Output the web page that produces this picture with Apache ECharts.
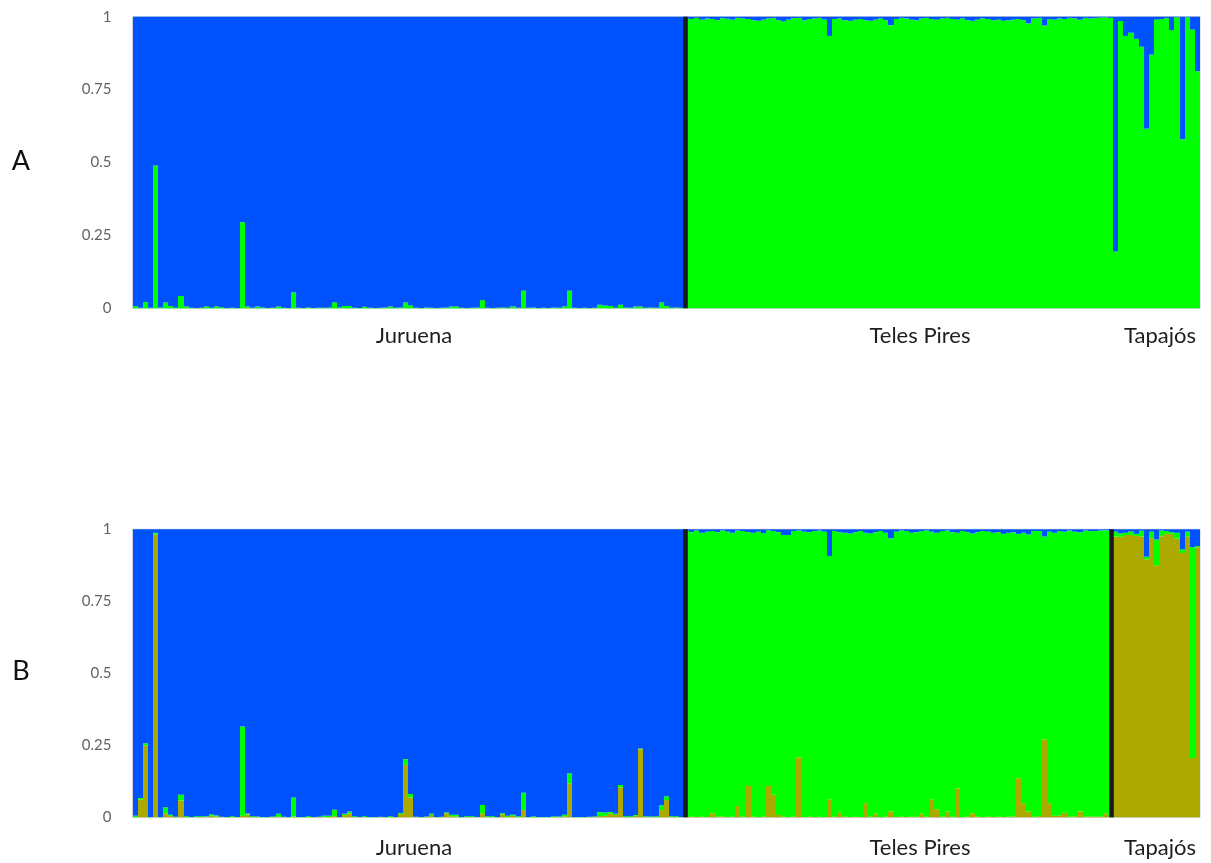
<!DOCTYPE html>
<html>
<head>
<meta charset="utf-8">
<script src="https://cdn.jsdelivr.net/npm/echarts@6/dist/echarts.min.js"></script>
<style>
  html, body { margin: 0; padding: 0; background: #ffffff; }
  #chart { width: 1211px; height: 863px; }
</style>
</head>
<body>
<div id="chart"></div>
<script>
// Populations in plotting order and the number of individuals in each
const populations = ['Juruena', 'Teles Pires', 'Tapajós'];
const popSizes = [108, 84, 17];

// Y tick values shared by both panels
const yTicks = [0, 0.25, 0.5, 0.75, 1];

// Panel A (K = 2): membership in the green cluster; blue is the remainder
const kTwoGreen = [
  // Juruena
  0.008,0.002,0.022,0.002,0.49,0.003,0.02,0.008,0.002,0.042,
  0.006,0.002,0.001,0.002,0.006,0.002,0.006,0.004,0.001,0.002,
  0.001,0.295,0.006,0.002,0.006,0.003,0.001,0.002,0.006,0.002,
  0.001,0.054,0.002,0.001,0.003,0.001,0.002,0.002,0.003,0.02,
  0.003,0.008,0.008,0.002,0.001,0.005,0.002,0.001,0.002,0.003,
  0.006,0.002,0.003,0.02,0.01,0.002,0.001,0.003,0.002,0.001,
  0.002,0.003,0.006,0.006,0.002,0.001,0.002,0.003,0.028,0.002,
  0.001,0.002,0.003,0.002,0.006,0.002,0.06,0.002,0.003,0.001,
  0.002,0.001,0.003,0.002,0.006,0.06,0.002,0.001,0.002,0.001,
  0.002,0.012,0.01,0.008,0.002,0.012,0.003,0.002,0.006,0.006,
  0.002,0.003,0.002,0.02,0.008,0.002,0.003,0.002,
  // Teles Pires
  0.994,0.992,0.996,0.99,0.994,0.992,0.988,0.995,0.993,0.99,0.996,0.994,
  0.992,0.988,0.986,0.99,0.994,0.996,0.988,0.984,0.99,0.995,0.996,0.988,
  0.992,0.994,0.996,0.99,0.934,0.992,0.994,0.988,0.986,0.99,0.992,0.988,
  0.986,0.99,0.994,0.988,0.971,0.992,0.996,0.994,0.99,0.988,0.994,0.996,
  0.992,0.99,0.994,0.996,0.992,0.99,0.994,0.988,0.986,0.99,0.994,0.992,
  0.988,0.99,0.986,0.988,0.99,0.992,0.988,0.977,0.994,0.996,0.97,0.992,
  0.99,0.994,0.992,0.996,0.994,0.99,0.996,0.994,0.996,0.997,0.998,0.996,
  // Tapajós
  0.195,0.985,0.934,0.945,0.924,0.897,0.616,0.87,0.99,0.992,0.995,0.954,
  0.998,0.58,0.998,0.956,0.813
];

// Panel B (K = 3): olive and green memberships; blue is the remainder
const kThreeOlive = [
  // Juruena
  0,0.062,0.249,0,0.982,0,0.014,0.005,0.001,0.058,
  0.001,0,0.001,0.001,0.002,0.005,0.003,0.001,0,0.001,
  0,0.005,0.009,0.001,0.001,0,0,0.001,0.002,0.001,
  0,0.003,0,0,0.001,0,0.001,0.001,0.001,0.004,
  0,0.008,0.014,0.001,0,0.001,0,0,0.001,0,
  0.001,0,0.012,0.182,0.069,0.001,0,0.001,0.008,0,
  0.001,0.014,0.003,0.003,0,0.001,0.001,0,0.014,0.001,
  0.001,0,0.01,0.001,0.005,0.001,0.025,0,0.001,0,
  0,0,0.001,0.001,0.003,0.118,0,0,0,0.001,
  0.001,0.004,0.005,0.012,0.008,0.104,0.001,0.001,0.005,0.236,
  0.001,0.001,0.001,0.025,0.06,0.001,0.001,0,
  // Teles Pires
  0.001,0.003,0.001,0.002,0.001,0.014,0.002,0.003,0.001,0.002,0.039,0.002,
  0.109,0.002,0.001,0.002,0.109,0.078,0.008,0.002,0.001,0.002,0.208,0.001,
  0.002,0.001,0.002,0.001,0.062,0.002,0.016,0.002,0.001,0.002,0.001,0.049,
  0.002,0.012,0.001,0.002,0.02,0.001,0.003,0.001,0.002,0.002,0.012,0.002,
  0.062,0.028,0.002,0.02,0.002,0.1,0.001,0.002,0.014,0.002,0.001,0.002,
  0.001,0.002,0.001,0.002,0.003,0.135,0.049,0.02,0.002,0.004,0.27,0.049,
  0.005,0.005,0.016,0.002,0.003,0.02,0.002,0.003,0.002,0.003,0.014,0.003,
  // Tapajós
  0.975,0.974,0.98,0.98,0.977,0.975,0.896,0.969,0.875,0.976,0.984,0.984,
  0.968,0.918,0.974,0.206,0.938
];

const kThreeGreen = [
  // Juruena
  0.005,0.005,0.008,0.001,0.006,0.001,0.021,0.004,0.001,0.02,
  0.003,0.001,0.003,0.003,0.002,0.006,0.003,0.001,0.001,0.003,
  0.001,0.31,0.004,0.003,0.002,0.001,0.001,0.002,0.01,0.001,
  0.001,0.066,0.001,0.001,0.003,0.001,0.001,0.004,0.004,0.022,
  0.001,0.004,0.006,0.003,0.001,0.003,0.001,0.001,0.001,0.001,
  0.003,0.001,0.003,0.02,0.012,0.001,0.001,0.002,0.004,0.001,
  0.001,0.003,0.006,0.006,0.001,0.003,0.003,0.001,0.029,0.003,
  0.003,0.001,0.004,0.004,0.004,0.003,0.06,0.001,0.003,0.001,
  0.001,0.001,0.003,0.002,0.006,0.035,0.001,0.001,0.001,0.001,
  0.002,0.014,0.012,0.006,0.004,0.008,0.003,0.003,0.003,0.003,
  0.003,0.002,0.003,0.017,0.012,0.003,0.003,0.001,
  // Teles Pires
  0.994,0.987,0.995,0.986,0.991,0.98,0.988,0.993,0.991,0.986,0.957,0.992,
  0.881,0.986,0.991,0.984,0.887,0.916,0.982,0.978,0.979,0.992,0.788,0.991,
  0.988,0.993,0.994,0.991,0.845,0.992,0.974,0.986,0.985,0.988,0.993,0.939,
  0.984,0.978,0.993,0.986,0.949,0.991,0.993,0.993,0.986,0.988,0.982,0.994,
  0.93,0.96,0.992,0.976,0.988,0.888,0.993,0.988,0.972,0.988,0.993,0.99,
  0.987,0.988,0.983,0.986,0.987,0.849,0.939,0.962,0.992,0.99,0.705,0.943,
  0.983,0.989,0.976,0.994,0.989,0.97,0.994,0.991,0.992,0.993,0.983,0.993,
  // Tapajós
  0.017,0.012,0.008,0.012,0.007,0.02,0.009,0.023,0.09,0.02,0.01,0.006,
  0.02,0.012,0.018,0.732,0.004
];

// Population boundaries marked with a black divider in each panel
const kTwoDividers = ['Juruena'];
const kThreeDividers = ['Juruena', 'Teles Pires'];

const COLORS = { blue: '#0052ff', green: '#00ff00', olive: '#aca900', divider: '#1a1a1a' };
const FONT = 'Lato, "Open Sans", sans-serif';

const nInd = popSizes.reduce((a, b) => a + b, 0);
const individuals = Array.from({ length: nInd }, (_, i) => String(i + 1));

// Cumulative end position of a population along the individual axis
function popEnd(name) {
  const idx = populations.indexOf(name);
  let s = 0;
  for (let i = 0; i <= idx; i++) s += popSizes[i];
  return s;
}

// Small nudge of each divider stroke relative to the population boundary (in bar widths)
const dividerNudge = { 'Juruena': 0.15, 'Teles Pires': -0.45 };

// Rows of [individual, q1, q2, ...] in bottom-to-top stacking order; blue fills the rest up to 1
const kTwoRows = kTwoGreen.map((g, i) => [i, g, Math.max(0, 1 - g)]);
const kThreeRows = kThreeOlive.map((o, i) => [i, o, kThreeGreen[i], Math.max(0, 1 - o - kThreeGreen[i])]);

const grids = [
  { left: 132.5, top: 16.7, width: 1067.5, height: 291.6 },
  { left: 132.5, top: 529.3, width: 1067.5, height: 288 }
];

function catAxis(gridIndex) {
  return {
    type: 'category', gridIndex, data: individuals, boundaryGap: true,
    axisLine: { show: false }, axisTick: { show: false }, axisLabel: { show: false },
    splitLine: { show: false }
  };
}
function posAxis(gridIndex) {
  return {
    type: 'value', gridIndex, min: 0, max: nInd, show: false,
    splitLine: { show: false }
  };
}
function propAxis(gridIndex) {
  return {
    type: 'value', gridIndex, min: yTicks[0], max: yTicks[yTicks.length - 1],
    interval: yTicks[1] - yTicks[0],
    axisLine: { show: false }, axisTick: { show: false }, splitLine: { show: false },
    axisLabel: { color: '#636363', fontSize: 15, fontFamily: FONT, margin: 21 }
  };
}

// One stacked column per individual; column edges snap to whole pixels so neighbours meet without seams
function admixtureSeries(rows, colors, xi, yi) {
  const dims = rows[0].length;
  return {
    type: 'custom', data: rows, xAxisIndex: xi, yAxisIndex: yi, silent: true, animation: false,
    encode: { x: 0, y: 1 },
    renderItem(params, api) {
      const idx = api.value(0);
      const band = api.size([1, 0])[0];
      const centre = api.coord([idx, 0])[0];
      const xl = Math.round(centre - band / 2);
      const xr = Math.round(centre + band / 2);
      const children = [];
      let cum = 0;
      for (let d = 1; d < dims; d++) {
        const v = api.value(d);
        if (v <= 0) continue;
        const yBottom = api.coord([idx, cum])[1];
        cum += v;
        const yTop = api.coord([idx, Math.min(cum, 1)])[1];
        children.push({
          type: 'rect',
          shape: { x: xl, y: yTop, width: xr - xl, height: yBottom - yTop },
          style: { fill: colors[d - 1] }
        });
      }
      return { type: 'group', children };
    }
  };
}

function dividerSeries(names, xi, yi) {
  return {
    type: 'line', data: [], xAxisIndex: xi, yAxisIndex: yi, silent: true, animation: false,
    markLine: {
      symbol: 'none', silent: true, animation: false,
      label: { show: false },
      lineStyle: { color: COLORS.divider, width: 4.6, type: 'solid', opacity: 1 },
      data: names.map(n => ({ xAxis: popEnd(n) + (dividerNudge[n] || 0) }))
    }
  };
}

// Population name labels under each panel
const labelX = [414, 920, 1160];
const labelRows = [336, 848];
const popLabels = [];
labelRows.forEach(y => {
  populations.forEach((p, i) => {
    popLabels.push({
      type: 'text', x: labelX[i], y,
      style: { text: p, fill: '#1e1e1e', font: '22px ' + FONT, textAlign: 'center', textVerticalAlign: 'middle' }
    });
  });
});

const panelTags = [
  { type: 'text', x: 21, y: 161, style: { text: 'A', fill: '#111', font: '27px ' + FONT, textAlign: 'center', textVerticalAlign: 'middle' } },
  { type: 'text', x: 21, y: 671, style: { text: 'B', fill: '#111', font: '27px ' + FONT, textAlign: 'center', textVerticalAlign: 'middle' } }
];

const chart = echarts.init(document.getElementById('chart'), null, { renderer: 'canvas' });
chart.setOption({
  backgroundColor: '#ffffff',
  animation: false,
  grid: grids.map(g => Object.assign({ show: true, borderColor: '#c9ced8', borderWidth: 1, backgroundColor: 'transparent' }, g)),
  xAxis: [catAxis(0), posAxis(0), catAxis(1), posAxis(1)],
  yAxis: [propAxis(0), propAxis(1)],
  series: [
    admixtureSeries(kTwoRows, [COLORS.green, COLORS.blue], 0, 0),
    admixtureSeries(kThreeRows, [COLORS.olive, COLORS.green, COLORS.blue], 2, 1),
    dividerSeries(kTwoDividers, 1, 0),
    dividerSeries(kThreeDividers, 3, 1)
  ],
  graphic: popLabels.concat(panelTags)
});
</script>
</body>
</html>
